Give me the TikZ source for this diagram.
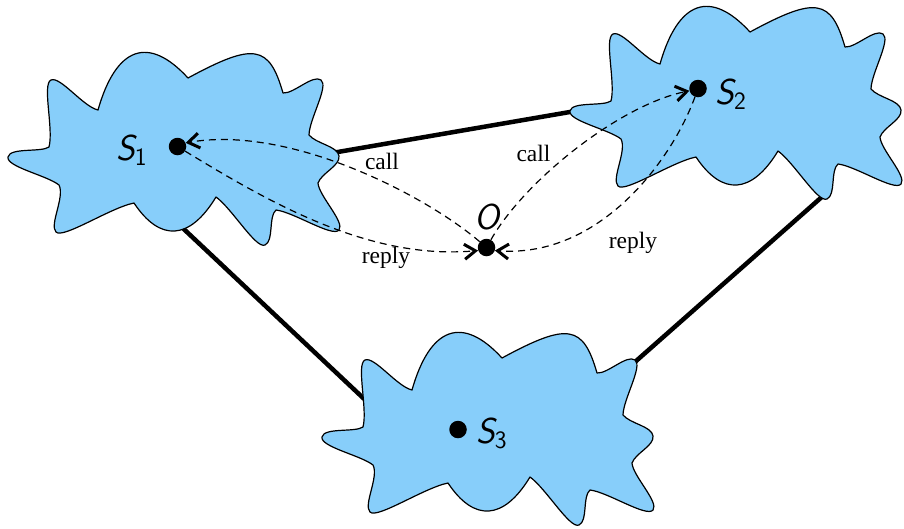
\documentclass[tikz,border=0pt]{standalone}
\usepackage{fontspec}
\newfontfamily\lserif{Liberation Serif}
\usetikzlibrary{arrows.meta}
\definecolor{cloudblue}{RGB}{135,206,250}
\tikzset{
  cloudshape/.style={fill=cloudblue, draw=black, line width=1.2pt, line join=round},
  link/.style={line width=4.5pt},
  msg/.style={line width=1.2pt, dash pattern=on 7pt off 5pt,
    -{Straight Barb[length=11pt,width=15pt,line width=3pt]}},
  dot/.style={circle, fill=black, inner sep=0pt, minimum size=17.5pt},
  msglabel/.style={font=\lserif\fontsize{23.5}{28}\selectfont, inner sep=0pt},
  namelabel/.style={font=\sffamily\slshape\fontsize{36}{40}\selectfont, inner sep=0pt, anchor=base west},
  cloudpic/.pic={
    \path[cloudshape] (-114,34)
      .. controls (-126.1,24.4) and (-166.9,15.8) .. (-165,6)
      .. controls (-163.1,-3.8) and (-132.1,1.6) .. (-124,-4)
      .. controls (-119.2,-22.1) and (-131.1,-66.8) .. (-122,-71)
      .. controls (-112.9,-75.2) and (-89.8,-44.3) .. (-75,-41)
      .. controls (-56.9,-104.5) and (-24.5,-116.1) .. (15,-73)
      .. controls (80.9,-108.7) and (96.1,-106.3) .. (110,-58)
      .. controls (120.7,-57.1) and (139.9,-76.9) .. (148,-71)
      .. controls (156.1,-65.1) and (136.3,-31.9) .. (136,-16)
      .. controls (143.4,-7.1) and (164.8,-4.9) .. (166,5)
      .. controls (167.2,14.9) and (148.8,21.7) .. (145,32)
      .. controls (145.8,44.8) and (172.2,71.2) .. (166,79)
      .. controls (159.8,86.8) and (120.6,61) .. (103,59)
      .. controls (95.2,65.5) and (101.1,89.8) .. (92,94)
      .. controls (82.9,98.2) and (59.2,57.7) .. (43,46)
      .. controls (16.8,89.2) and (-12.8,91.4) .. (-39,52)
      .. controls (-62.9,56.8) and (-110.2,88.3) .. (-117,81)
      .. controls (-123.9,73.7) and (-107.9,46) .. (-114,34)
      -- cycle;
  }
}
\begin{document}
\begin{tikzpicture}[x=1pt,y=-1pt]
\useasboundingbox (0,0) rectangle (904,528);
% thick links (under the clouds)
\coordinate (l12a) at (329,153.5);
\coordinate (l12b) at (578,110.6);
\coordinate (l13a) at (171,217);
\coordinate (l13b) at (369,403.5);
\coordinate (l23a) at (632,364.6);
\coordinate (l23b) at (827,192.4);
\draw[link] (l12a) -- (l12b);
\draw[link] (l13a) -- (l13b);
\draw[link] (l23a) -- (l23b);
% clouds
\pic at (173,151) {cloudpic};
\pic at (735,105) {cloudpic};
\pic at (487,431) {cloudpic};
% dots
\node[dot] (s1) at (177.5,146.5) {};
\node[dot] (s2) at (698,88.5) {};
\node[dot] (s3) at (458,429.5) {};
\node[dot] (o) at (486.5,247.5) {};
% messages
\draw[msg] (o) .. controls (425,195) and (290,125) .. (s1.24);
\draw[msg] (s1) .. controls (272,204) and (370,260) .. (o.200);
\draw[msg] (o) .. controls (525,180) and (620,105) .. (s2.195);
\draw[msg] (s2) .. controls (672,160) and (600,258) .. (o.-20);
% labels
\node[msglabel] (call1) at (382,161.5) {call};
\node[msglabel] (call2) at (533.5,153.5) {call};
\node[msglabel] (reply1) at (386,257.5) {reply};
\node[msglabel] (reply2) at (633,242.5) {reply};
\node[namelabel] (n1) at (116,160) {S\raisebox{-5pt}{\upshape\fontsize{25}{25}\selectfont 1}};
\node[namelabel] (n2) at (715,104) {S\raisebox{-5pt}{\upshape\fontsize{25}{25}\selectfont 2}};
\node[namelabel] (n3) at (476,443) {S\raisebox{-5pt}{\upshape\fontsize{25}{25}\selectfont 3}};
\node[namelabel] (no) at (474,229) {O};
\end{tikzpicture}
\end{document}
